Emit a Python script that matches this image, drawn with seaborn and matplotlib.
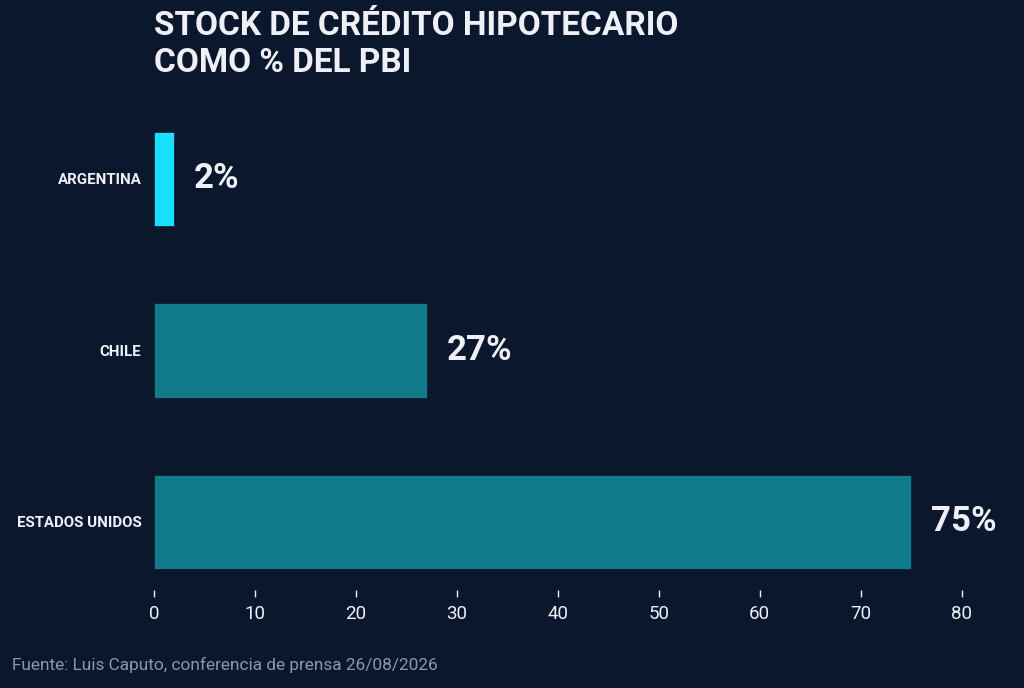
import matplotlib
matplotlib.use("Agg")
import matplotlib.pyplot as plt
import seaborn as sns
import pandas as pd
from matplotlib.transforms import offset_copy

countries = ["ARGENTINA", "CHILE", "ESTADOS UNIDOS"]
values = [2, 27, 75]
value_labels = ["2%", "27%", "75%"]
x_ticks = [0, 10, 20, 30, 40, 50, 60, 70, 80]

BG = "#0b172d"
CYAN = "#1ae0ff"
TEAL = "#117a8b"
TXT = "#eef0f6"

sns.set_theme(style="white")
plt.rcParams["font.family"] = ["Roboto", "DejaVu Sans"]

df = pd.DataFrame({"pais": countries, "valor": values})
palette = {c: (CYAN if c == "ARGENTINA" else TEAL) for c in countries}

fig = plt.figure(figsize=(10.24, 6.88), dpi=100, facecolor=BG)
ax = fig.add_axes([154/1024, 1-590/688, (1002-154)/1024, (590-93)/688])
ax.set_facecolor(BG)

sns.barplot(data=df, x="valor", y="pais", hue="pais", palette=palette,
            order=countries, width=0.55, saturation=1, legend=False, ax=ax,
            edgecolor=BG, linewidth=0.5)

ax.set_xlim(0, 84)
ax.set_ylim(2.397, -0.5)
ax.set_xticks(x_ticks)
ax.set_xticklabels([str(t) for t in x_ticks], color=TXT, fontsize=13.5)
ax.tick_params(axis="x", length=5, width=1, color=TXT, pad=6, bottom=True)
ax.tick_params(axis="y", length=0, pad=9)
for lab in ax.get_yticklabels():
    lab.set_color(TXT)
    lab.set_fontsize(10.8)
    lab.set_fontweight("bold")
ax.set_xlabel("")
ax.set_ylabel("")
for s in ax.spines.values():
    s.set_visible(False)

for i, (v, lbl) in enumerate(zip(values, value_labels)):
    tr = offset_copy(ax.transData, fig=fig, x=20, y=0, units="dots")
    ax.text(v, i, lbl, transform=tr, ha="left", va="center",
            color=TXT, fontsize=25, fontweight="bold")

fig.text(154/1024, 1-10/688, "STOCK DE CRÉDITO HIPOTECARIO\nCOMO % DEL PBI",
         ha="left", va="top", color=TXT, fontsize=24, fontweight="bold",
         linespacing=1.2)
fig.text(12/1024, 1-665/688, "Fuente: Luis Caputo, conferencia de prensa 26/08/2026",
         ha="left", va="center", color="#8d97ab", fontsize=12.4)

fig.savefig("out.png", dpi=100, facecolor=BG)
